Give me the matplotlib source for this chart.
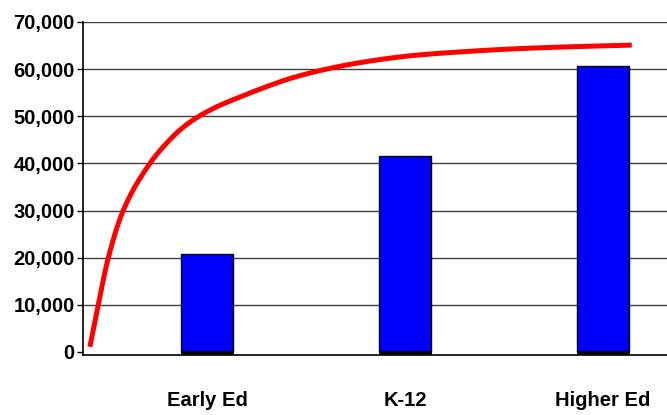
import numpy as np
import matplotlib.pyplot as plt

plt.rcParams['font.family'] = ['Liberation Sans', 'DejaVu Sans']

# categories and bar values
categories = ['Early Ed', 'K-12', 'Higher Ed']
spending = [20700, 41500, 60600]
base = [800, 800, 800]  # dark strip at the foot of each bar

# red curve (x in category units, 1 = Early Ed)
curve_x = [0.409, 0.451, 0.502, 0.577, 0.712, 0.779, 0.864, 0.948, 1.049, 1.167, 1.302,
           1.419, 1.571, 1.790, 2.042, 2.294, 2.547, 2.800, 3.145]
curve_y = [1100, 10000, 20000, 30000, 40000, 43500, 47100, 49700, 52000, 54100, 56300,
           58000, 59700, 61500, 62900, 63700, 64300, 64700, 65100]

y_ticks = np.arange(0, 70001, 10000)


def smooth(xp, yp, n=30):
    # monotone cubic (Fritsch-Carlson) through the read points, only for drawing
    xp = np.asarray(xp, float)
    yp = np.asarray(yp, float)
    h = np.diff(xp)
    d = np.diff(yp) / h
    m = np.zeros_like(yp)
    m[0], m[-1] = d[0], d[-1]
    for i in range(1, len(xp) - 1):
        if d[i - 1] * d[i] > 0:
            w1 = 2 * h[i] + h[i - 1]
            w2 = h[i] + 2 * h[i - 1]
            m[i] = (w1 + w2) / (w1 / d[i - 1] + w2 / d[i])
    xs, ys = [], []
    for i in range(len(h)):
        t = np.linspace(0, 1, n, endpoint=False)
        h00 = 2 * t**3 - 3 * t**2 + 1
        h10 = t**3 - 2 * t**2 + t
        h01 = -2 * t**3 + 3 * t**2
        h11 = t**3 - t**2
        xs.extend(xp[i] + t * h[i])
        ys.extend(h00 * yp[i] + h10 * h[i] * m[i] + h01 * yp[i + 1] + h11 * h[i] * m[i + 1])
    xs.append(xp[-1])
    ys.append(yp[-1])
    return xs, ys


fig = plt.figure(figsize=(6.67, 4.15), dpi=100)
ax = fig.add_axes([0.1244, 0.1446, 0.8756, 0.8024])

x = np.arange(1, len(categories) + 1)
ymin = -640

ax.bar(x, spending, width=0.26, color='#0000ff', edgecolor='black', linewidth=1, zorder=3)
ax.bar(x, base, bottom=ymin, width=0.26, color='black', edgecolor='black', linewidth=0.5, zorder=4)

sx, sy = smooth(curve_x, curve_y)
ax.plot(sx, sy, color='#ff0000', linewidth=3.6, solid_capstyle='butt', zorder=5)

ax.set_xlim(0.374, 3.323)
ax.set_ylim(ymin, 70000)
ax.set_yticks(y_ticks)
ax.set_yticklabels([f'{v:,}' for v in y_ticks])
ax.set_xticks(x)
ax.set_xticklabels(categories)

for v in y_ticks[1:]:
    ax.axhline(v, color='#404040', linewidth=1, zorder=1)

ax.tick_params(axis='y', direction='out', length=4, width=1, labelsize=14.5, pad=2)
ax.tick_params(axis='x', length=0, labelsize=14.5, pad=26)
for lab in ax.get_xticklabels() + ax.get_yticklabels():
    lab.set_fontweight('bold')

ax.spines['top'].set_visible(False)
ax.spines['right'].set_visible(False)
ax.spines['left'].set_linewidth(1.2)
ax.spines['bottom'].set_linewidth(1.2)

fig.savefig('out.png', dpi=100)
